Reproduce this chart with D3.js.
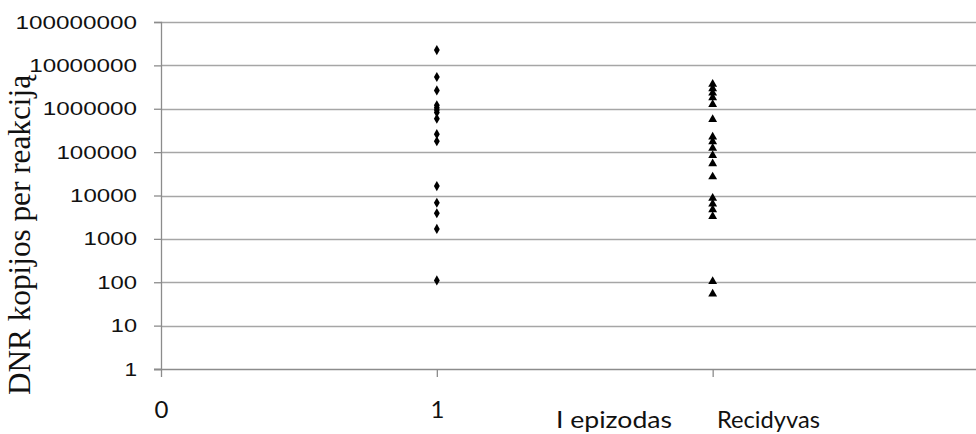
<!DOCTYPE html>
<html>
<head>
<meta charset="utf-8">
<script src="https://cdn.jsdelivr.net/npm/d3@7/dist/d3.min.js"></script>
<style>
  html, body { margin: 0; padding: 0; background: #fff; }
  svg { display: block; }
</style>
</head>
<body>
<svg id="chart" width="976" height="434"></svg>
<script>
// DNR copies per reaction: first episode vs. recurrence
const groupNames = ["I epizodas", "Recidyvas"];
const groupX = [1, 2];
const episodeValues = [22500000, 5400000, 2650000, 1200000, 1050000, 930000, 820000, 590000,
                       260000, 178000, 16500, 6800, 3900, 1700, 110];
const recurrenceValues = [3700000, 2900000, 2300000, 1800000, 1260000, 570000, 225000, 175000,
                          124000, 84000, 54000, 27000, 8700, 6400, 4700, 3300, 105, 54];
const yTicks = [1, 10, 100, 1000, 10000, 100000, 1000000, 10000000, 100000000];
const xTicks = [0, 1, 2];
const xTickLabels = ["0", "1", ""];
const yTitle = "DNR kopijos per reakciją";

const W = 976, H = 434;
const svg = d3.select("#chart");
const gridColor = "#a6a6a6";
const axisColor = "#8c8c8c";

const x = d3.scaleLinear().domain([0, 3]).range([161, 988.5]);
const y = d3.scaleLog().domain([1, 1e8]).range([369, 22]);

// horizontal gridlines
svg.append("g")
  .selectAll("line")
  .data(yTicks.slice(1))
  .join("line")
  .attr("x1", x(0)).attr("x2", W)
  .attr("y1", d => Math.round(y(d)) + 0.5).attr("y2", d => Math.round(y(d)) + 0.5)
  .attr("stroke", gridColor).attr("stroke-width", 1.3);

// y axis
const yAxis = svg.append("g")
  .attr("transform", `translate(${x(0)},0)`)
  .call(d3.axisLeft(y).tickValues(yTicks).tickSize(7).tickPadding(17)
        .tickFormat(d3.format("d")));
yAxis.select(".domain").attr("stroke", axisColor).attr("stroke-width", 1.3);
yAxis.selectAll(".tick line").attr("stroke", axisColor).attr("stroke-width", 1.3);
yAxis.selectAll(".tick text")
  .attr("fill", "#111")
  .style("font-family", "'Liberation Sans', Arial, sans-serif")
  .style("font-size", "19px")
  .attr("textLength", d => String(d).length * 13.6 - 1)
  .attr("lengthAdjust", "spacingAndGlyphs");

// x axis
const xAxis = svg.append("g")
  .attr("transform", `translate(0,${y(1)})`)
  .call(d3.axisBottom(x).tickValues(xTicks).tickSize(8).tickPadding(24)
        .tickFormat((d, i) => xTickLabels[i]));
xAxis.select(".domain").attr("d", `M${x(0) - 7},0.5H${W}`)
  .attr("stroke", axisColor).attr("stroke-width", 1.3);
xAxis.selectAll(".tick line").attr("stroke", axisColor).attr("stroke-width", 1.3);
xAxis.selectAll(".tick text")
  .attr("fill", "#111")
  .style("font-family", "Lato, 'Open Sans', sans-serif")
  .style("font-size", "24px");

// y axis title
svg.append("text")
  .attr("transform", `translate(30,235) rotate(-90)`)
  .attr("text-anchor", "middle")
  .style("font-family", "'Liberation Serif', 'Times New Roman', serif")
  .style("font-size", "31px")
  .attr("fill", "#111")
  .attr("textLength", 320)
  .attr("lengthAdjust", "spacingAndGlyphs")
  .text(yTitle);

// group captions under the axis
const captionX = [614, 768.5];
const captionW = [116, 103];
svg.append("g")
  .selectAll("text")
  .data(groupNames)
  .join("text")
  .attr("x", (d, i) => captionX[i])
  .attr("y", 428)
  .attr("text-anchor", "middle")
  .style("font-family", "Lato, 'Open Sans', sans-serif")
  .style("font-size", "24px")
  .attr("fill", "#111")
  .attr("textLength", (d, i) => captionW[i])
  .attr("lengthAdjust", "spacingAndGlyphs")
  .text(d => d);

// first episode: diamonds
svg.append("g")
  .selectAll("path")
  .data(episodeValues)
  .join("path")
  .attr("transform", d => `translate(${x(groupX[0])},${y(d)})`)
  .attr("d", d3.symbol(d3.symbolDiamond, 30))
  .attr("fill", "#000");

// recurrence: triangles
svg.append("g")
  .selectAll("path")
  .data(recurrenceValues)
  .join("path")
  .attr("transform", d => `translate(${x(groupX[1])},${y(d)})`)
  .attr("d", d3.symbol(d3.symbolTriangle, 34))
  .attr("fill", "#000");
</script>
</body>
</html>
